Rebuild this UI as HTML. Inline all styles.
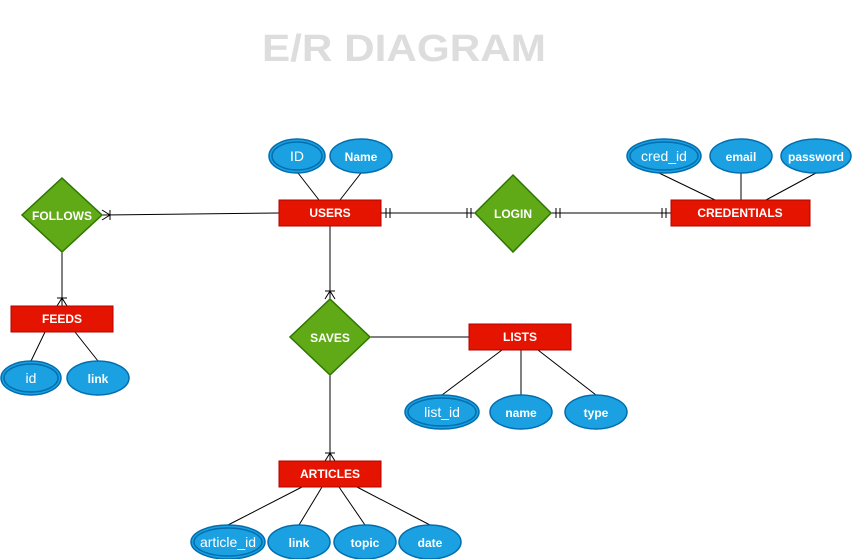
<!DOCTYPE html>
<html><head><meta charset="utf-8"><style>
html,body{margin:0;padding:0;background:#fff;}
svg{display:block;font-family:"Liberation Sans",sans-serif;}
.e{fill:#1ba1e2;stroke:#006eaf;stroke-width:1.5;}
.r{fill:#e51400;stroke:#b20000;stroke-width:1;}
.d{fill:#60a917;stroke:#2d7600;stroke-width:1.5;}
.t{fill:#fff;font-size:12px;font-weight:bold;text-anchor:middle;dominant-baseline:central;}
.k{fill:#fff;font-size:14px;text-anchor:middle;dominant-baseline:central;}
.l{stroke:#000;stroke-width:1;fill:none;}
</style></head><body>
<svg width="853" height="559" viewBox="0 0 853 559">
<text x="404" y="49" fill="#ddd" font-size="38" font-weight="bold" text-anchor="middle" dominant-baseline="central" textLength="284" lengthAdjust="spacingAndGlyphs">E/R DIAGRAM</text>

<!-- connectors -->
<path class="l" d="M298 173L319 200M361 173L340 200"/>
<path class="l" d="M659 173L715 200M741 173L741 200M816 173L766 200"/>
<path class="l" d="M381 213L475 213M551 213L671 213"/>
<path class="l" d="M386 208v10M390 208v10M471 208v10M467 208v10M556 208v10M560 208v10M666 208v10M662 208v10"/>
<path class="l" d="M102 215L279 213" stroke="#555"/>
<path class="l" d="M102 210L110 215L102 220M110 210v10"/>
<path class="l" d="M62 252L62 306M57 306L62 298L67 306M57 298h10"/>
<path class="l" d="M45 332L31 361M75 332L98 361"/>
<path class="l" d="M330 226L330 299M325 299L330 291L335 299M325 291h10"/>
<path class="l" d="M370 337L469 337"/>
<path class="l" d="M502 350L442 395M521 350L521 395M538 350L596 395"/>
<path class="l" d="M330 375L330 461M325 461L330 453L335 461M325 453h10"/>
<path class="l" d="M302 487L228 525M322 487L299 525M339 487L365 525M357 487L430 525"/>

<!-- entities -->
<rect class="r" x="279" y="200" width="102" height="26"/><text class="t" x="330" y="213">USERS</text>
<rect class="r" x="671" y="200" width="139" height="26"/><text class="t" x="740" y="213">CREDENTIALS</text>
<rect class="r" x="11" y="306" width="102" height="26"/><text class="t" x="62" y="319">FEEDS</text>
<rect class="r" x="469" y="324" width="102" height="26"/><text class="t" x="520" y="337">LISTS</text>
<rect class="r" x="279" y="461" width="102" height="26"/><text class="t" x="330" y="474">ARTICLES</text>

<!-- relationships -->
<polygon class="d" points="513,175 551,213 513,252 475,213"/><text class="t" x="513" y="214">LOGIN</text>
<polygon class="d" points="62,178 102,215 62,252 22,215"/><text class="t" x="62" y="216">FOLLOWS</text>
<polygon class="d" points="330,299 370,337 330,375 290,337"/><text class="t" x="330" y="338">SAVES</text>

<!-- attributes -->
<ellipse class="e" cx="297" cy="156" rx="28" ry="17"/><ellipse class="e" cx="297" cy="156" rx="25" ry="14"/><text class="k" x="297" y="156">ID</text>
<ellipse class="e" cx="361" cy="156" rx="31" ry="17"/><text class="t" x="361" y="157">Name</text>
<ellipse class="e" cx="664" cy="156" rx="37" ry="17"/><ellipse class="e" cx="664" cy="156" rx="34" ry="14"/><text class="k" x="664" y="156">cred_id</text>
<ellipse class="e" cx="741" cy="156" rx="31" ry="17"/><text class="t" x="741" y="157">email</text>
<ellipse class="e" cx="816" cy="156" rx="35" ry="17"/><text class="t" x="816" y="157">password</text>
<ellipse class="e" cx="31" cy="378" rx="30" ry="17"/><ellipse class="e" cx="31" cy="378" rx="27" ry="14"/><text class="k" x="31" y="378">id</text>
<ellipse class="e" cx="98" cy="378" rx="31" ry="17"/><text class="t" x="98" y="379">link</text>
<ellipse class="e" cx="442" cy="412" rx="37" ry="17"/><ellipse class="e" cx="442" cy="412" rx="34" ry="14"/><text class="k" x="442" y="412">list_id</text>
<ellipse class="e" cx="521" cy="412" rx="31" ry="17"/><text class="t" x="521" y="413">name</text>
<ellipse class="e" cx="596" cy="412" rx="31" ry="17"/><text class="t" x="596" y="413">type</text>
<ellipse class="e" cx="228" cy="542" rx="37" ry="17"/><ellipse class="e" cx="228" cy="542" rx="34" ry="14"/><text class="k" x="228" y="542">article_id</text>
<ellipse class="e" cx="299" cy="542" rx="31" ry="17"/><text class="t" x="299" y="543">link</text>
<ellipse class="e" cx="365" cy="542" rx="31" ry="17"/><text class="t" x="365" y="543">topic</text>
<ellipse class="e" cx="430" cy="542" rx="31" ry="17"/><text class="t" x="430" y="543">date</text>
</svg>
</body></html>
